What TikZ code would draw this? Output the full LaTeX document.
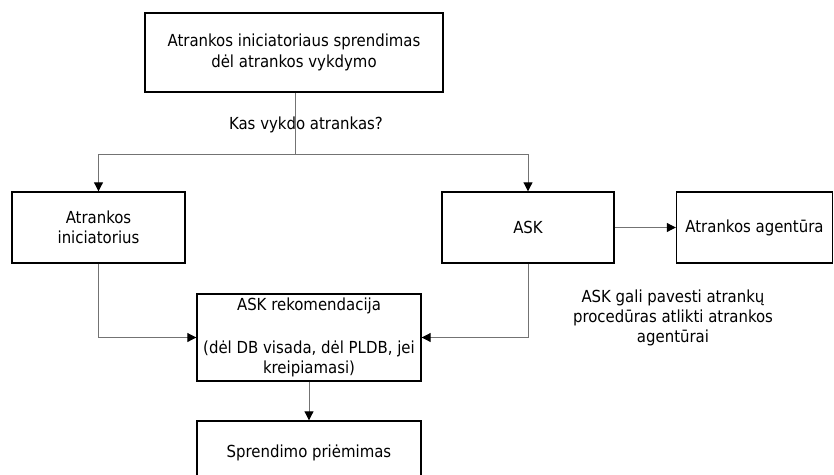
\documentclass[tikz,border=0pt]{standalone}
\usepackage{fontspec}
\setmainfont{DejaVu Sans Condensed}
\usetikzlibrary{arrows.meta}
\begin{document}
\begin{tikzpicture}[x=1pt,y=-1pt,
  box/.style={draw=black,line width=1.4pt,align=center,inner sep=2pt,
    font=\fontsize{16.6}{20.5}\selectfont},
  conn/.style={draw=black!55,line width=1pt},
  arr/.style={conn,-{Triangle[length=9pt,width=9pt,fill=black,color=black]}},
  lbl/.style={align=center,font=\fontsize{16.6}{20}\selectfont}]
\clip (0,0) rectangle (834,474);
\useasboundingbox (0,0) rectangle (834,474);
\node[box,minimum width=298pt,minimum height=79pt] (top) at (294,52.5)
  {Atrankos iniciatoriaus sprendimas\\dėl atrankos vykdymo};
\node[box,minimum width=173pt,minimum height=71pt] (left) at (98.5,227.5)
  {Atrankos\\iniciatorius};
\node[box,minimum width=172pt,minimum height=71pt] (ask) at (528,227.5) {ASK};
\node[box,minimum width=156pt,minimum height=71pt] (agency) at (754.5,227.5)
  {Atrankos agentūra};
\node[box,minimum width=224pt,minimum height=87pt] (rek) at (309,337.5)
  {ASK rekomendacija\\[22pt](dėl DB visada, dėl PLDB, jei\\kreipiamasi)};
\node[box,minimum width=224pt,minimum height=64pt] (final) at (309,453)
  {Sprendimo priėmimas};
\node[lbl] (q) at (306,125) {Kas vykdo atrankas?};
\node[lbl] (note) at (673,318)
  {ASK gali pavesti atrankų\\procedūras atlikti atrankos\\agentūrai};
\coordinate (split) at (295,154);
\draw[conn] (top.south -| split) -- (split);
\draw[arr] (split) -| (left.north);
\draw[arr] (split) -| (ask.north);
\draw[arr] (left.south) |- (rek.west);
\draw[arr] (ask.south) |- (rek.east);
\draw[arr] (ask.east) -- (agency.west);
\draw[arr] (rek.south) -- (final.north);
\end{tikzpicture}
\end{document}
